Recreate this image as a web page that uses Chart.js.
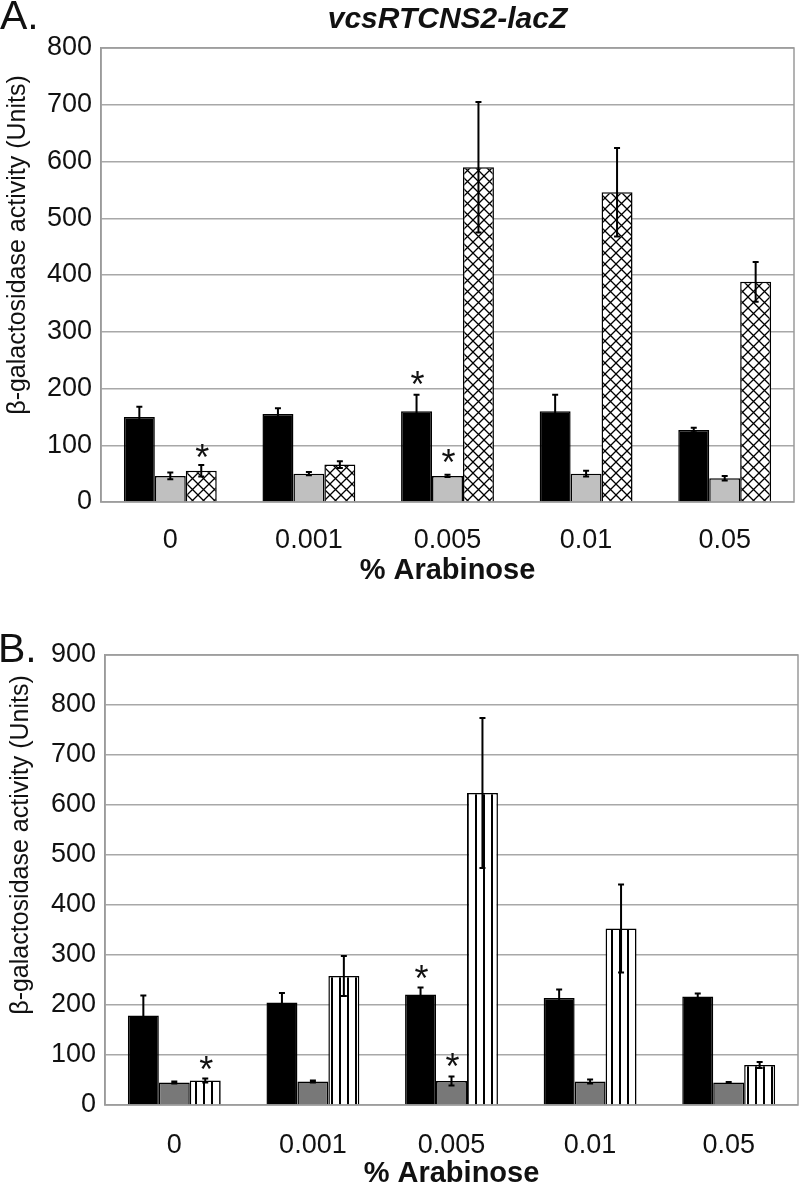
<!DOCTYPE html>
<html>
<head>
<meta charset="utf-8">
<script src="https://cdn.jsdelivr.net/npm/chart.js@4.4.1/dist/chart.umd.min.js"></script>
<style>
  body { margin: 0; background: #fff; }
  .panel { position: absolute; left: 0; width: 800px; }
  #panelA { top: 0; height: 585px; }
  #panelB { top: 585px; height: 603px; }
</style>
</head>
<body>
<div class="panel" id="panelA"><canvas id="chartA"></canvas></div>
<div class="panel" id="panelB"><canvas id="chartB"></canvas></div>
<script>
// % arabinose doses (x categories)
const doses = ['0', '0.001', '0.005', '0.01', '0.05'];

// Panel A: vcsRTCNS2-lacZ
const aBlack = [150, 155, 160, 160, 127];
const aBlackErr = [18, 10, 29, 29, 4];
const aGray = [46, 50, 46, 50, 42];
const aGrayErr = [6, 3, 2, 5, 4];
const aHatched = [55, 66, 590, 546, 388];
const aHatchedErr = [10, 6, 115, 78, 35];
const aMax = 800;
// asterisks: [dose index, series index, value]
const aStars = [[0, 2, 93], [2, 0, 222], [2, 1, 83]];

// Panel B
const bBlack = [179, 205, 221, 214, 217];
const bBlackErr = [40, 19, 14, 17, 6];
const bGray = [45, 47, 48, 47, 45];
const bGrayErr = [2, 2, 9, 4, 1];
const bStriped = [49, 258, 624, 353, 80];
const bStripedErr = [4, 40, 150, 88, 6];
const bMax = 900;
const bStars = [[0, 2, 87], [2, 0, 270], [2, 1, 94]];

const FONT = "'Liberation Sans', Arial, sans-serif";
const yTitle = '\u03b2-galactosidase activity (Units)';

// cross hatch fill for panel A third bar
function hatchPattern() {
  const c = document.createElement('canvas');
  c.width = 11; c.height = 11;
  const g = c.getContext('2d');
  g.fillStyle = '#fff';
  g.fillRect(0, 0, 11, 11);
  g.strokeStyle = '#000';
  g.lineWidth = 1.3;
  g.beginPath();
  g.moveTo(0, 0); g.lineTo(11, 11);
  g.moveTo(11, 0); g.lineTo(0, 11);
  g.stroke();
  return g.createPattern(c, 'repeat');
}

// vertical stripes for panel B third bar
function stripePattern() {
  const c = document.createElement('canvas');
  c.width = 8; c.height = 8;
  const g = c.getContext('2d');
  g.fillStyle = '#fff';
  g.fillRect(0, 0, 8, 8);
  g.fillStyle = '#000';
  g.fillRect(3, 0, 2, 8);
  return g.createPattern(c, 'repeat');
}

// frame, error bars, asterisks, rotated y title and panel letter
function decor(p) {
  return {
    id: 'decor',
    beforeDatasetsDraw(chart) {
      const a = chart.chartArea, ctx = chart.ctx;
      ctx.save();
      ctx.strokeStyle = '#9a9a9a';
      ctx.lineWidth = 1.5;
      ctx.strokeRect(a.left, a.top, a.right - a.left, a.bottom - a.top);
      ctx.restore();
    },
    afterDatasetsDraw(chart) {
      const ctx = chart.ctx, y = chart.scales.y;
      ctx.save();
      ctx.strokeStyle = '#000';
      ctx.lineWidth = 2;
      chart.data.datasets.forEach((ds, i) => {
        chart.getDatasetMeta(i).data.forEach((bar, j) => {
          const v = ds.data[j], e = ds.errors[j];
          const top = y.getPixelForValue(v + e), bot = y.getPixelForValue(v - e);
          ctx.beginPath();
          ctx.moveTo(bar.x, top); ctx.lineTo(bar.x, bot);
          ctx.moveTo(bar.x - 3, top); ctx.lineTo(bar.x + 3, top);
          ctx.moveTo(bar.x - 3, bot); ctx.lineTo(bar.x + 3, bot);
          ctx.stroke();
        });
      });
      ctx.fillStyle = '#111';
      ctx.font = '36px ' + FONT;
      ctx.textAlign = 'center';
      ctx.textBaseline = 'alphabetic';
      p.stars.forEach(([g, s, v]) => {
        const bar = chart.getDatasetMeta(s).data[g];
        ctx.fillText('*', bar.x + 1, y.getPixelForValue(v) + 0.57 * 36);
      });
      ctx.restore();
    },
    afterDraw(chart) {
      const ctx = chart.ctx;
      ctx.save();
      ctx.fillStyle = '#111';
      ctx.font = '25px ' + FONT;
      ctx.textAlign = 'center';
      ctx.textBaseline = 'middle';
      ctx.translate(p.titleX, p.titleY);
      ctx.rotate(-Math.PI / 2);
      ctx.fillText(yTitle, 0, 0);
      ctx.restore();
      ctx.save();
      ctx.fillStyle = '#111';
      ctx.font = '41px ' + FONT;
      ctx.textBaseline = 'alphabetic';
      ctx.fillText(p.letter, p.letterX, p.letterY);
      ctx.restore();
    }
  };
}

function makePanel(id, sets, p) {
  const ctx = document.getElementById(id).getContext('2d');
  new Chart(ctx, {
    type: 'bar',
    data: {
      labels: doses,
      datasets: sets.map(s => ({
        data: s.data,
        errors: s.err,
        backgroundColor: s.fill,
        borderColor: '#000',
        borderWidth: 1.5,
        barPercentage: 1,
        categoryPercentage: 0.67
      }))
    },
    options: {
      responsive: true,
      maintainAspectRatio: false,
      animation: false,
      layout: { padding: { top: p.padTop, right: p.padRight, left: 0, bottom: 0 } },
      plugins: {
        legend: { display: false },
        tooltip: { enabled: false },
        title: {
          display: !!p.title,
          text: p.title,
          fullSize: false,
          color: '#111',
          font: { family: FONT, size: 30, weight: 'bold', style: 'italic', lineHeight: 1.2 },
          padding: { top: 2, bottom: 10 }
        }
      },
      scales: {
        x: {
          grid: { display: false },
          border: { display: false },
          ticks: { color: '#111', padding: p.xTickPad, font: { family: FONT, size: 27 } },
          title: {
            display: true,
            text: '% Arabinose',
            color: '#111',
            font: { family: FONT, size: 29, weight: 'bold', lineHeight: 1 },
            padding: { top: 0, bottom: p.xTitlePad }
          },
          afterFit: s => { s.height = 83; }
        },
        y: {
          min: 0,
          max: p.max,
          grid: { color: '#a8a8a8', lineWidth: 1.5, drawTicks: false },
          border: { display: true, color: '#9a9a9a', width: 1.5 },
          ticks: { stepSize: 100, color: '#111', padding: 9, font: { family: FONT, size: 27 } },
          afterFit: s => { s.width = p.yWidth; }
        }
      }
    },
    plugins: [decor(p)]
  });
}

makePanel('chartA', [
  { data: aBlack, err: aBlackErr, fill: '#000' },
  { data: aGray, err: aGrayErr, fill: '#c0c0c0' },
  { data: aHatched, err: aHatchedErr, fill: hatchPattern() }
], {
  title: 'vcsRTCNS2-lacZ', max: aMax, stars: aStars,
  padTop: 0, padRight: 6, yWidth: 101, xTickPad: 14, xTitlePad: 0,
  titleX: 18, titleY: 245, letter: 'A.', letterX: 0, letterY: 29
});

makePanel('chartB', [
  { data: bBlack, err: bBlackErr, fill: '#000' },
  { data: bGray, err: bGrayErr, fill: '#787878' },
  { data: bStriped, err: bStripedErr, fill: stripePattern() }
], {
  title: '', max: bMax, stars: bStars,
  padTop: 70, padRight: 2, yWidth: 105, xTickPad: 16, xTitlePad: 0,
  titleX: 21, titleY: 260, letter: 'B.', letterX: -2, letterY: 77
});
</script>
</body>
</html>
